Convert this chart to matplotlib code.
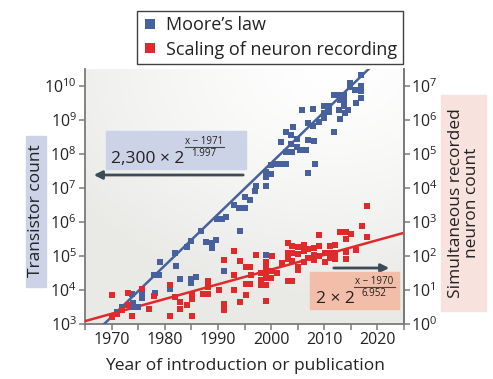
"""Moore's law vs. scaling of simultaneous neuron recording."""

import matplotlib
matplotlib.use("Agg")
import matplotlib.pyplot as plt
from matplotlib.lines import Line2D
from matplotlib.patches import Rectangle
from matplotlib.ticker import FixedLocator, MultipleLocator, NullLocator
import numpy as np

plt.rcParams["font.family"] = ["Open Sans", "DejaVu Sans"]
plt.rcParams["mathtext.fontset"] = "custom"
plt.rcParams["mathtext.rm"] = "Open Sans"
plt.rcParams["mathtext.it"] = "Open Sans:italic"

BLUE = "#46619c"
RED = "#df2a2b"
SPINE = "#7a7a7a"
ARROW = "#3c4b55"

# transistor counts (log10) by year of introduction
moore_year = [
    1971.1, 1972.0, 1973.9, 1974.0, 1974.0, 1974.9, 1975.8, 1975.8, 1978.1, 1978.0,
    1978.9, 1979.1, 1981.0, 1981.9, 1982.1, 1982.9, 1984.1, 1985.0, 1985.0, 1985.0,
    1985.9, 1986.9, 1987.8, 1988.8, 1988.8, 1989.7, 1989.8, 1990.8, 1991.6, 1991.1,
    1993.1, 1994.0, 1995.0, 1994.1, 1995.0, 1996.0, 1997.0, 1997.2, 1999.1, 1999.1,
    1999.1, 2000.0, 1999.9, 2000.9, 2001.9, 2002.8, 1999.1, 2002.8, 2004.0, 2001.9,
    2002.8, 2004.1, 2003.8, 2003.8, 2004.9, 2004.9, 2005.5, 2006.5, 2007.0, 2005.9,
    2007.8, 2006.9, 2008.2, 2007.0, 2007.8, 2009.0, 2008.1, 2009.9, 2010.0, 2010.9,
    2010.9, 2010.0, 2011.9, 2011.9, 2012.8, 2013.7, 2012.9, 2012.9, 2013.7, 2013.7,
    2014.5, 2012.8, 2013.9, 2014.8, 2014.8, 2015.8, 2015.9, 2016.9, 2016.9, 2016.9,
    2016.9,
]
moore_log10 = [
    3.36, 3.50, 3.87, 3.62, 3.50, 3.50, 3.87, 3.77, 3.91, 4.43,
    4.43, 4.82, 4.03, 5.09, 4.70, 4.31, 5.27, 5.43, 4.33, 4.20,
    4.38, 5.73, 5.41, 5.37, 5.25, 5.46, 6.10, 6.10, 6.15, 4.55,
    6.50, 6.42, 6.42, 5.74, 6.75, 6.65, 6.92, 7.05, 7.05, 7.33,
    7.48, 7.40, 7.68, 7.72, 7.72, 7.72, 5.02, 8.07, 8.07, 8.36,
    8.66, 8.80, 8.55, 8.30, 8.45, 8.20, 8.12, 8.12, 8.40, 9.28,
    9.32, 7.43, 7.70, 8.90, 8.82, 8.94, 8.39, 9.05, 9.40, 9.40,
    9.25, 9.20, 8.66, 9.74, 9.74, 9.74, 9.02, 9.60, 9.60, 9.40,
    9.30, 9.30, 9.20, 10.09, 9.97, 9.89, 9.50, 10.33, 9.99, 9.85,
    9.65,
]

# simultaneously recorded neurons (log10) by year of publication
neuron_year = [
    1970.1, 1970.1, 1971.1, 1972.0, 1973.0, 1973.0, 1973.9, 1975.8, 1977.0, 1978.0,
    1980.9, 1980.9, 1982.0, 1982.9, 1982.9, 1984.1, 1985.1, 1985.1, 1985.1, 1987.2,
    1988.1, 1988.1, 1988.1, 1990.2, 1991.2, 1991.2, 1991.2, 1993.1, 1993.1, 1993.1,
    1994.1, 1994.1, 1995.2, 1996.1, 1995.2, 1996.1, 1995.2, 1997.1, 1996.2, 1998.1,
    1998.1, 1998.1, 1999.1, 1999.1, 1999.1, 1999.1, 1999.1, 1999.1, 2000.0, 2000.0,
    2000.1, 2001.1, 2002.1, 2003.1, 2003.1, 2003.1, 2004.0, 2003.1, 2004.0, 2004.0,
    2004.0, 2005.0, 2005.0, 2005.0, 2005.0, 2006.1, 2006.1, 2006.1, 2007.0, 2007.0,
    2008.1, 2008.1, 2008.1, 2009.1, 2009.1, 2009.1, 2010.2, 2010.2, 2011.1, 2011.1,
    2011.1, 2012.1, 2012.1, 2012.1, 2013.0, 2014.0, 2014.0, 2014.0, 2014.0, 2015.0,
    2015.9, 2017.1, 2018.0, 2018.0,
]
neuron_log10 = [
    0.84, 0.22, 0.30, 0.42, 0.91, 0.56, 0.25, 1.04, 0.45, 0.81,
    0.25, 1.16, 0.79, 0.66, 0.45, 0.55, 0.25, 0.84, 0.75, 0.89,
    0.89, 1.08, 1.26, 1.01, 0.60, 0.42, 1.87, 2.15, 1.43, 0.99,
    1.85, 0.64, 1.68, 1.68, 1.19, 1.19, 0.84, 2.02, 1.43, 1.50,
    1.28, 1.14, 1.82, 1.70, 1.53, 1.36, 1.14, 0.67, 1.57, 1.35,
    1.99, 1.50, 1.78, 2.38, 1.92, 1.26, 1.26, 2.10, 2.28, 2.10,
    1.85, 2.27, 1.68, 1.60, 2.05, 2.33, 2.14, 1.83, 2.20, 1.95,
    2.25, 2.02, 1.87, 2.62, 2.30, 2.00, 1.82, 2.10, 2.30, 2.10,
    1.95, 2.32, 2.10, 1.90, 2.71, 2.71, 2.51, 2.12, 1.92, 2.64,
    2.19, 2.88, 3.47, 2.56,
]

# fitted exponentials printed on the chart
moore_fit = (2300, 1971, 1.997)
neuron_fit = (2, 1970, 6.952)

year_ticks = [1970, 1980, 1990, 2000, 2010, 2020]
left_exp = list(range(3, 11))
right_exp = list(range(0, 8))
OFFSET = 1000  # right axis = left axis / 1000

fig = plt.figure(figsize=(4.93, 3.79), dpi=100)
W, H = 493, 379


def fx(px):
    return px / W


def fy(py):
    return 1 - py / H


ax = fig.add_axes([fx(85), fy(324), fx(404) - fx(85), fy(69) - fy(324)])
ax.set_xlim(1965, 2025)
ax.set_yscale("log")
ax.set_ylim(1e3, 10 ** 10.5)

# soft grey-to-white background
gx, gy = np.meshgrid(np.linspace(0, 1, 200), np.linspace(0, 1, 200))
dist = np.sqrt(((gx - 0.78) / 1.0) ** 2 + ((gy - 1.0) / 0.9) ** 2)
shade = np.clip(dist / 1.0, 0, 1) ** 1.3
img = np.ones((200, 200, 3))
low = np.array([0.915, 0.915, 0.905])
img = img * (1 - shade[..., None]) + low * shade[..., None]
ax.imshow(img, extent=(0, 1, 0, 1), transform=ax.transAxes, origin="lower",
          aspect="auto", zorder=0, interpolation="bilinear")

xs = np.linspace(1965, 2025, 200)
a, x0, d = moore_fit
ax.plot(xs, a * 2 ** ((xs - x0) / d), color=BLUE, lw=1.8, zorder=3)
a, x0, d = neuron_fit
ax.plot(xs, OFFSET * a * 2 ** ((xs - x0) / d), color=RED, lw=1.8, zorder=3)

ax.plot(moore_year, 10 ** np.array(moore_log10), "s", color=BLUE, ms=3.8,
        mew=0, zorder=4)
ax.plot(neuron_year, OFFSET * 10 ** np.array(neuron_log10), "s", color=RED,
        ms=3.8, mew=0, zorder=4)

ax.spines["top"].set_visible(False)
for side in ("left", "right", "bottom"):
    ax.spines[side].set_color(SPINE)
    ax.spines[side].set_linewidth(1.3)

ax.xaxis.set_major_locator(FixedLocator(year_ticks))
ax.xaxis.set_minor_locator(MultipleLocator(5))
ax.yaxis.set_major_locator(FixedLocator([10.0 ** e for e in left_exp]))
ax.yaxis.set_minor_locator(NullLocator())
ax.set_yticklabels([rf"$10^{{{e}}}$" for e in left_exp])
ax.tick_params(which="both", direction="out", length=4, width=1.1,
               color=SPINE, labelsize=11.5, labelcolor="#222222", pad=2)

ax2 = ax.twinx()
ax2.set_yscale("log")
ax2.set_ylim(1e3 / OFFSET, 10 ** 10.5 / OFFSET)
ax2.yaxis.set_major_locator(FixedLocator([10.0 ** e for e in right_exp]))
ax2.yaxis.set_minor_locator(NullLocator())
ax2.set_yticklabels([rf"$10^{{{e}}}$" for e in right_exp])
ax2.tick_params(which="both", direction="out", length=4, width=1.1,
                color=SPINE, labelsize=11.5, labelcolor="#222222", pad=1)
for side in ("top", "left", "bottom"):
    ax2.spines[side].set_visible(False)
ax2.spines["right"].set_color(SPINE)
ax2.spines["right"].set_linewidth(1.3)

fig.text(fx(245), fy(366), "Year of introduction or publication",
         ha="center", va="center", fontsize=12.5, color="#222222")

# axis titles in tinted boxes
fig.patches.append(Rectangle((fx(26), fy(287)), fx(46) - fx(26), fy(136) - fy(287),
                             transform=fig.transFigure, color="#cdd3e7", zorder=0))
fig.text(fx(36), fy(211), "Transistor count", rotation=90, ha="center",
         va="center", fontsize=12.5, color="#222222")
fig.patches.append(Rectangle((fx(441), fy(311)), fx(486) - fx(441), fy(95) - fy(311),
                             transform=fig.transFigure, color="#f7e2dd", zorder=0))
fig.text(fx(464), fy(203), "Simultaneous recorded\nneuron count", rotation=90,
         ha="center", va="center", fontsize=12.5, color="#222222",
         multialignment="center", linespacing=1.05)

# fit annotations
fig.patches.append(Rectangle((fx(106), fy(169)), fx(246) - fx(106), fy(131) - fy(169),
                             transform=fig.transFigure, color="#cdd3e6", zorder=5))
fig.text(fx(111), fy(163), "2,300 × 2", fontsize=12.5, color="#222222",
         ha="left", va="baseline", zorder=6)
fig.text(fx(204), fy(141), "x − 1971", fontsize=7, color="#222222",
         ha="center", va="center", zorder=6)
fig.lines.append(Line2D([fx(185), fx(224)], [fy(146.5), fy(146.5)],
                        transform=fig.transFigure, color="#444444", lw=0.8, zorder=6))
fig.text(fx(204), fy(154), "1.997", fontsize=7, color="#222222",
         ha="center", va="center", zorder=6)
ax.annotate("", xy=(fx(91), fy(175)), xytext=(fx(246), fy(175)),
            xycoords="figure fraction", textcoords="figure fraction",
            arrowprops=dict(arrowstyle="-|>", color=ARROW, lw=2,
                            mutation_scale=12), zorder=6)

fig.patches.append(Rectangle((fx(310), fy(309)), fx(399) - fx(310), fy(272) - fy(309),
                             transform=fig.transFigure, color="#f2bea9", zorder=5))
fig.text(fx(316), fy(303), "2 × 2", fontsize=12.5, color="#222222",
         ha="left", va="baseline", zorder=6)
fig.text(fx(374), fy(281), "x − 1970", fontsize=7, color="#222222",
         ha="center", va="center", zorder=6)
fig.lines.append(Line2D([fx(354), fx(395)], [fy(286.5), fy(286.5)],
                        transform=fig.transFigure, color="#444444", lw=0.8, zorder=6))
fig.text(fx(374), fy(294), "6.952", fontsize=7, color="#222222",
         ha="center", va="center", zorder=6)
ax.annotate("", xy=(fx(392), fy(268)), xytext=(fx(331), fy(268)),
            xycoords="figure fraction", textcoords="figure fraction",
            arrowprops=dict(arrowstyle="-|>", color=ARROW, lw=2,
                            mutation_scale=12), zorder=6)

handles = [
    Line2D([], [], marker="s", ls="", color=BLUE, ms=7.5, mew=0),
    Line2D([], [], marker="s", ls="", color=RED, ms=7.5, mew=0),
]
leg = fig.legend(handles, ["Moore’s law", "Scaling of neuron recording"],
                 loc="upper center", bbox_to_anchor=(fx(270), fy(11)),
                 fontsize=13, frameon=True, fancybox=False, borderpad=0.3,
                 handlelength=0.8, handletextpad=0.5, labelspacing=0.35,
                 borderaxespad=0)
leg.get_frame().set_edgecolor("#111111")
leg.get_frame().set_linewidth(1.0)
for t in leg.get_texts():
    t.set_color("#222222")

fig.savefig("out.png", dpi=100)
